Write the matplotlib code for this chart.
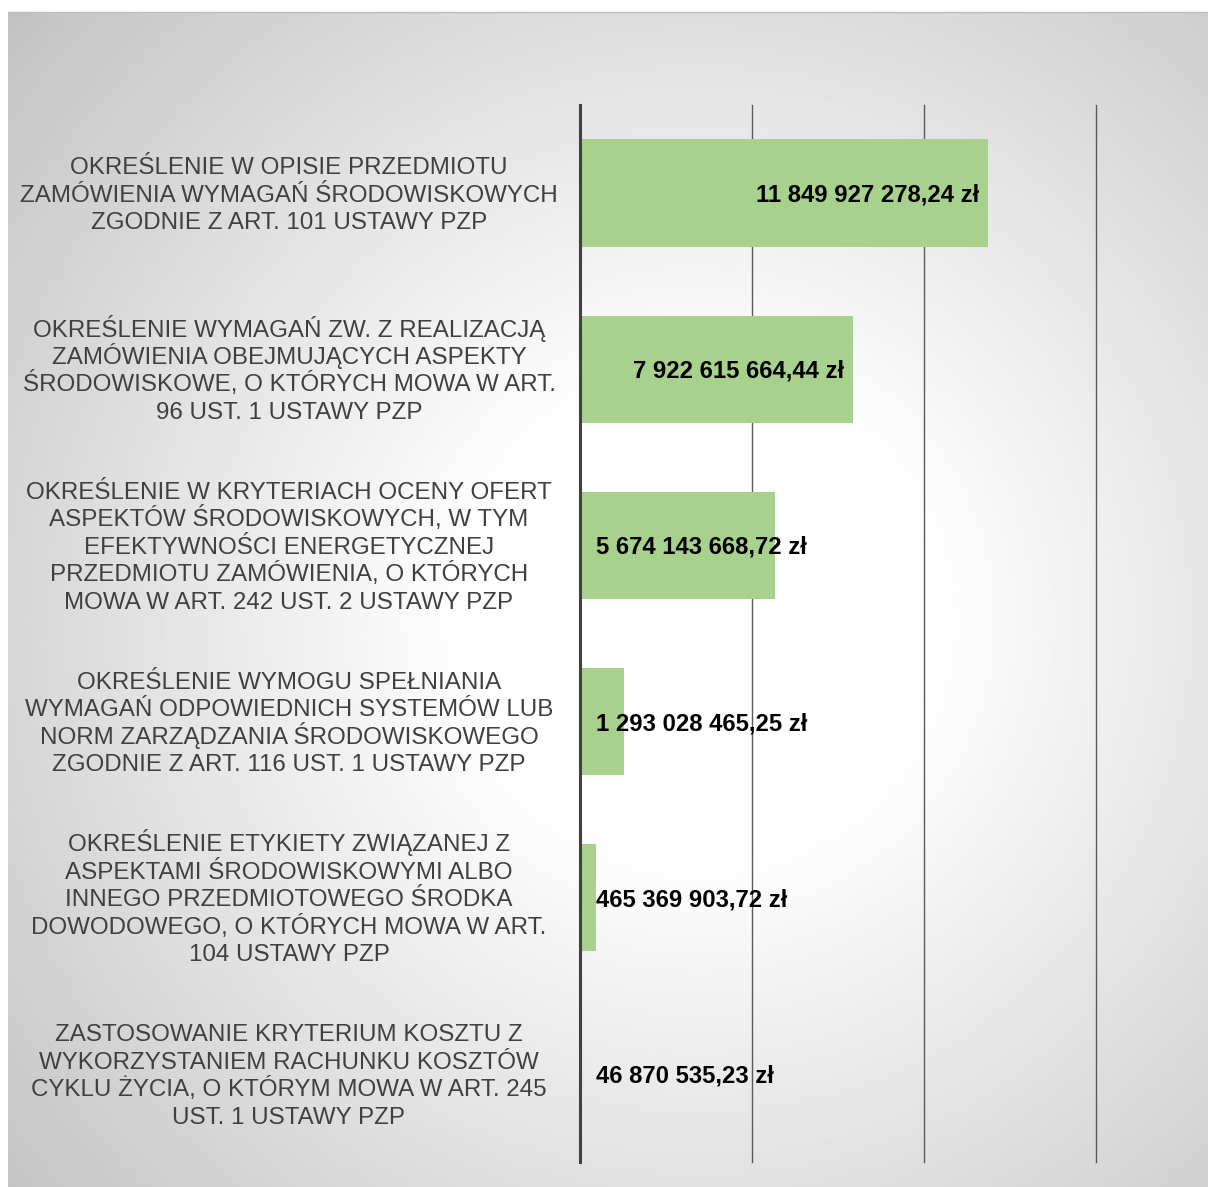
import numpy as np
import matplotlib.pyplot as plt

plt.rcParams['font.family'] = ['Liberation Sans', 'DejaVu Sans']

categories = [
    "OKREŚLENIE W OPISIE PRZEDMIOTU\nZAMÓWIENIA WYMAGAŃ ŚRODOWISKOWYCH\nZGODNIE Z ART. 101 USTAWY PZP",
    "OKREŚLENIE WYMAGAŃ ZW. Z REALIZACJĄ\nZAMÓWIENIA OBEJMUJĄCYCH ASPEKTY\nŚRODOWISKOWE, O KTÓRYCH MOWA W ART.\n96 UST. 1 USTAWY PZP",
    "OKREŚLENIE W KRYTERIACH OCENY OFERT\nASPEKTÓW ŚRODOWISKOWYCH, W TYM\nEFEKTYWNOŚCI ENERGETYCZNEJ\nPRZEDMIOTU ZAMÓWIENIA, O KTÓRYCH\nMOWA W ART. 242 UST. 2 USTAWY PZP",
    "OKREŚLENIE WYMOGU SPEŁNIANIA\nWYMAGAŃ ODPOWIEDNICH SYSTEMÓW LUB\nNORM ZARZĄDZANIA ŚRODOWISKOWEGO\nZGODNIE Z ART. 116 UST. 1 USTAWY PZP",
    "OKREŚLENIE ETYKIETY ZWIĄZANEJ Z\nASPEKTAMI ŚRODOWISKOWYMI ALBO\nINNEGO PRZEDMIOTOWEGO ŚRODKA\nDOWODOWEGO, O KTÓRYCH MOWA W ART.\n104 USTAWY PZP",
    "ZASTOSOWANIE KRYTERIUM KOSZTU Z\nWYKORZYSTANIEM RACHUNKU KOSZTÓW\nCYKLU ŻYCIA, O KTÓRYM MOWA W ART. 245\nUST. 1 USTAWY PZP",
]
values = [11849927278.24, 7922615664.44, 5674143668.72,
          1293028465.25, 465369903.72, 46870535.23]
grid_ticks = [0, 5e9, 10e9, 15e9]


def fmt_pln(v):
    s = f"{v:,.2f}"
    whole, frac = s.split('.')
    return whole.replace(',', ' ') + ',' + frac + ' zł'


W, H = 1208, 1187
PT = 72 / 100  # points per pixel at dpi 100
fig = plt.figure(figsize=(W / 100, H / 100), dpi=100, facecolor='white')

# radial grey-to-white panel background
px0, py0 = 8, 12
bg = fig.add_axes([px0 / W, 0, (W - px0) / W, (H - py0) / H])
xs = np.linspace(px0, W, 400)
ys = np.linspace(py0, H, 400)
gx, gy = np.meshgrid(xs, ys)
r = np.hypot(gx - 700, gy - 620)
t = np.clip((r - 230) / (950 - 230), 0, 1)
shade = (255 - 63 * t) / 255
bg.imshow(shade, cmap='gray', vmin=0, vmax=1, aspect='auto',
          interpolation='bilinear', extent=[0, 1, 0, 1])
bg.axis('off')
fig.add_artist(plt.Line2D([px0 / W, 1], [1 - py0 / H, 1 - py0 / H],
                          transform=fig.transFigure, color='#bdbdbd', lw=1))

ax = fig.add_axes([580 / W, 1 - 1162 / H, (1096 - 580) / W, (1162 - 105) / H])
ax.patch.set_alpha(0)
ypos = np.arange(len(values))
ax.barh(ypos, values, height=0.61, color='#A9D18E', zorder=2)
ax.set_ylim(len(values) - 0.5, -0.5)
ax.set_xlim(grid_ticks[0], grid_ticks[-1])
ax.set_yticks([])
ax.set_xticks([])
for gt in grid_ticks[1:]:
    ax.axvline(gt, color='#5a5a5a', lw=1.0, zorder=1, clip_on=False)
for side in ['top', 'right', 'bottom']:
    ax.spines[side].set_visible(False)
ax.spines['left'].set_color('#404040')
ax.spines['left'].set_linewidth(2.2)
ax.spines['left'].set_zorder(3)

fig.canvas.draw()
renderer = fig.canvas.get_renderer()
val_fs = 17.2
for y, v in zip(ypos, values):
    label = fmt_pln(v)
    probe = ax.text(0, y, label, fontsize=val_fs, fontweight='bold')
    tw = probe.get_window_extent(renderer).width
    probe.remove()
    bar_px = ax.transData.transform((v, 0))[0] - ax.transData.transform((0, 0))[0]
    if bar_px > tw + 30:
        ax.annotate(label, (v, y), xytext=(-9 * PT, -8.5 * PT), textcoords='offset points',
                    ha='right', va='baseline', fontsize=val_fs, fontweight='bold',
                    color='black', zorder=4)
    else:
        ax.annotate(label, (0, y), xytext=(16 * PT, -8.5 * PT), textcoords='offset points',
                    ha='left', va='baseline', fontsize=val_fs, fontweight='bold',
                    color='black', zorder=4)

# category labels, one text per line for even spacing
line_px = 27.5
for y, cat in zip(ypos, categories):
    lines = cat.split('\n')
    n = len(lines)
    for k, line in enumerate(lines):
        off = ((n - 1) / 2 - k) * line_px - 8.5
        ax.annotate(line, (289 / W, y), xycoords=('figure fraction', 'data'),
                    xytext=(0, off * PT), textcoords='offset points',
                    ha='center', va='baseline', fontsize=17.4, color='#404040',
                    annotation_clip=False)

fig.savefig('out.png', dpi=100, facecolor='white')
